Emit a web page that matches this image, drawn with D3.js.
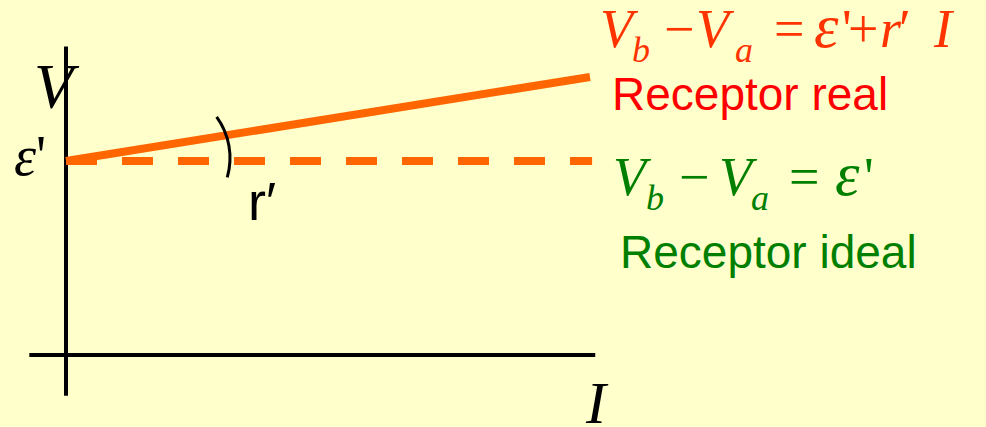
<!DOCTYPE html>
<html>
<head>
<meta charset="utf-8">
<script src="https://cdn.jsdelivr.net/npm/d3@7"></script>
<style>
  html, body { margin: 0; padding: 0; background: #FFFFCC; }
  svg { display: block; }
</style>
</head>
<body>
<svg id="chart" width="986" height="427"></svg>
<script>
// datos del receptor (unidades normalizadas)
const current = [0, 1];            // I
const emf = 1;                     // ε'
const rInt = 0.433;                // r' (pendiente)
const iAxisExtent = [-0.07, 1.01];
const vAxisExtent = [-0.21, 1.59];
const dashedEnd = 1.004;

const svg = d3.select("#chart");
const W = 986, H = 427;

const x = d3.scaleLinear().domain([0, 1]).range([66, 590]);
const y = d3.scaleLinear().domain([0, 1]).range([355, 161]);

const orange = "#FF6600";

svg.append("rect").attr("width", W).attr("height", H).attr("fill", "#FFFFCC");

// ejes
svg.append("line")
  .attr("x1", x(iAxisExtent[0])).attr("x2", x(iAxisExtent[1]))
  .attr("y1", y(0)).attr("y2", y(0))
  .attr("stroke", "black").attr("stroke-width", 4);
svg.append("line")
  .attr("x1", x(0)).attr("x2", x(0))
  .attr("y1", y(vAxisExtent[0])).attr("y2", y(vAxisExtent[1]))
  .attr("stroke", "black").attr("stroke-width", 4);

// receptor ideal: Vb - Va = ε'
svg.append("line")
  .attr("x1", x(0)).attr("x2", x(dashedEnd))
  .attr("y1", y(emf)).attr("y2", y(emf))
  .attr("stroke", orange).attr("stroke-width", 8)
  .attr("stroke-dasharray", "31 25");

// receptor real: Vb - Va = ε' + r' I
let line = d3.line()
  .x(d => x(d))
  .y(d => y(emf + rInt * d));
svg.append("path")
  .datum(current)
  .attr("d", line)
  .attr("fill", "none")
  .attr("stroke", orange).attr("stroke-width", 8);

// arco del angulo r'
let p = d3.path();
p.arc(160, 158, 70, -36 * Math.PI / 180, 16 * Math.PI / 180);
svg.append("path").attr("d", p.toString())
  .attr("fill", "none").attr("stroke", "black").attr("stroke-width", 3);

const serif = "'Liberation Serif', 'Times New Roman', serif";
const sans = "'Liberation Sans', Arial, sans-serif";

// etiquetas de los ejes
svg.append("text").attr("x", 34).attr("y", 108)
  .style("font-family", serif).style("font-style", "italic").style("font-size", "64px")
  .text("V");
svg.append("text").attr("x", 586).attr("y", 423)
  .style("font-family", serif).style("font-style", "italic").style("font-size", "60px")
  .text("I");
svg.append("text").attr("x", 14).attr("y", 175)
  .style("font-family", serif).style("font-size", "56px")
  .html("<tspan font-style='italic'>ε</tspan>'");
svg.append("text").attr("x", 248).attr("y", 220)
  .style("font-family", sans).style("font-size", "54px")
  .text("r′");

// ecuaciones
function equation(x0, y0, color, pieces) {
  let g = svg.append("g").attr("fill", color).style("font-family", serif);
  pieces.forEach(pc => {
    g.append("text")
      .attr("x", x0 + pc.dx)
      .attr("y", y0 + (pc.sub ? 15 : 0))
      .style("font-style", pc.it ? "italic" : "normal")
      .style("font-size", (pc.sub ? 36 : (pc.big ? 62 : 54)) + "px")
      .text(pc.t);
  });
}
equation(600, 47, "#FF3300", [
  {t: "V", dx: 0, it: true},
  {t: "b", dx: 32, it: true, sub: true},
  {t: "−", dx: 64},
  {t: "V", dx: 96, it: true},
  {t: "a", dx: 135, it: true, sub: true},
  {t: "=", dx: 174},
  {t: "ε", dx: 214, it: true, big: true},
  {t: "'", dx: 242},
  {t: "+", dx: 248},
  {t: "r", dx: 280, it: true},
  {t: "′", dx: 299},
  {t: "I", dx: 334, it: true}
]);
equation(613, 195, "#007F00", [
  {t: "V", dx: 0, it: true},
  {t: "b", dx: 33, it: true, sub: true},
  {t: "−", dx: 66},
  {t: "V", dx: 106, it: true},
  {t: "a", dx: 138, it: true, sub: true},
  {t: "=", dx: 176},
  {t: "ε", dx: 222, it: true, big: true},
  {t: "'", dx: 251}
]);

svg.append("text").attr("x", 612).attr("y", 110)
  .attr("fill", "#FF0000")
  .style("font-family", sans).style("font-size", "46px")
  .text("Receptor real");
svg.append("text").attr("x", 620).attr("y", 268)
  .attr("fill", "#007F00")
  .style("font-family", sans).style("font-size", "46px")
  .text("Receptor ideal");
</script>
</body>
</html>
